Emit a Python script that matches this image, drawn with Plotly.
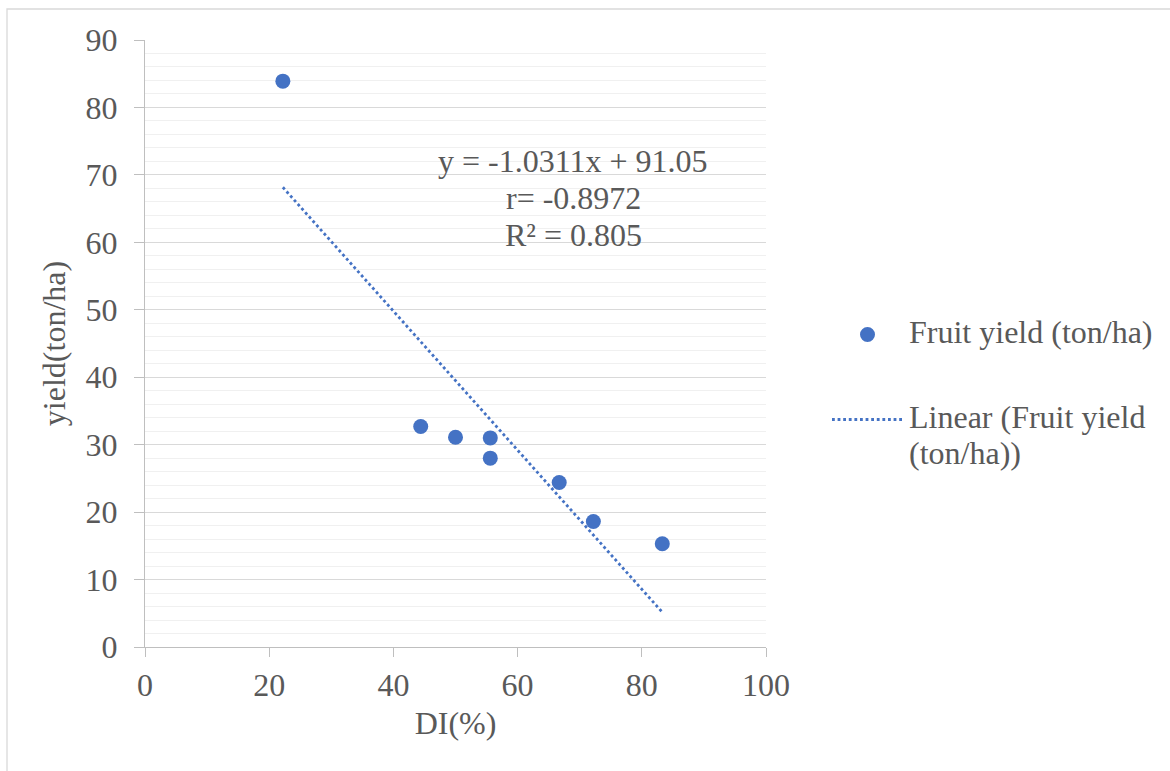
import plotly.graph_objects as go

# Data
di_pct = [22.2, 44.4, 50.0, 55.6, 55.6, 66.7, 72.2, 83.3]
fruit_yield = [83.9, 32.7, 31.1, 31.0, 28.0, 24.4, 18.6, 15.3]

# Trendline coefficients as printed on the chart
slope = -1.0311
intercept = 91.05
eq_lines = ["y = -1.0311x + 91.05", "r= -0.8972", "R² = 0.805"]

x_ticks = [0, 20, 40, 60, 80, 100]
y_ticks = [0, 10, 20, 30, 40, 50, 60, 70, 80, 90]

series_name = "Fruit yield (ton/ha)"
trend_name_lines = ["Linear (Fruit yield", "(ton/ha))"]

BLUE = "#4472C4"
TXT = "#595959"
FONT = "Liberation Serif, Times New Roman, serif"
FS = 32
BASE_OFF = 33  # px from annotation top to text baseline at FS

trend_x = [min(di_pct), max(di_pct)]
trend_y = [slope * v + intercept for v in trend_x]

fig = go.Figure()
fig.add_trace(go.Scatter(
    x=trend_x, y=trend_y, mode="lines", name=" ".join(trend_name_lines),
    line=dict(color=BLUE, width=2.8, dash="2.8px,2.8px"),
    showlegend=False, hoverinfo="skip",
))
fig.add_trace(go.Scatter(
    x=di_pct, y=fruit_yield, mode="markers", name=series_name,
    marker=dict(color=BLUE, size=15, line=dict(width=0)),
    showlegend=False,
))

W, H = 1170, 771
L, R, T, B = 145, 1170 - 766, 40, 771 - 647
pw, ph = W - L - R, H - T - B

def px(xp):
    return (xp - L) / pw

def py(yp):
    return (H - B - yp) / ph

shapes = [
    # chart border
    dict(type="rect", xref="paper", yref="paper",
         x0=px(7), x1=px(1180), y0=py(790), y1=py(9),
         line=dict(color="#D9D9D9", width=1.3), fillcolor="rgba(0,0,0,0)", layer="below"),
    # legend symbols
    dict(type="circle", xref="paper", yref="paper",
         x0=px(860), x1=px(875), y0=py(342), y1=py(327),
         line=dict(width=0), fillcolor=BLUE),
    dict(type="line", xref="paper", yref="paper",
         x0=px(832), x1=px(903), y0=py(419.5), y1=py(419.5),
         line=dict(color=BLUE, width=2.8, dash="2.8px,2.8px")),
]

def text_line(txt, x, baseline, anchor):
    return dict(text=txt, xref="paper", yref="paper",
                x=px(x), y=py(baseline - BASE_OFF), xanchor=anchor, yanchor="top",
                showarrow=False, font=dict(family=FONT, size=FS, color=TXT))

annotations = []
for txt, base in zip(eq_lines, [174, 211, 248]):
    annotations.append(text_line(txt, 573, base, "center"))
annotations.append(text_line(series_name, 907, 345, "left"))
for txt, base in zip(trend_name_lines, [430, 466]):
    annotations.append(text_line(txt, 907, base, "left"))

fig.update_layout(
    width=W, height=H,
    margin=dict(l=L, r=R, t=T, b=B, autoexpand=False),
    paper_bgcolor="white", plot_bgcolor="white",
    font=dict(family=FONT, size=FS, color=TXT),
    showlegend=False,
    shapes=shapes, annotations=annotations,
    xaxis=dict(
        range=[0, 100], tickvals=x_ticks, ticktext=[str(v) for v in x_ticks],
        showgrid=False, zeroline=False,
        showline=True, linecolor="#BFBFBF", linewidth=1.3,
        ticks="outside", ticklen=9, tickcolor="#BFBFBF", tickwidth=1.3,
        tickfont=dict(family=FONT, size=FS, color=TXT),
        title=dict(text="DI(%)", font=dict(family=FONT, size=FS, color=TXT), standoff=10),
        automargin=False, fixedrange=True,
    ),
    yaxis=dict(
        range=[0, 90], tickvals=y_ticks, ticktext=[str(v) for v in y_ticks],
        showgrid=True, gridcolor="#D9D9D9", gridwidth=1.3,
        minor=dict(dtick=2, showgrid=True, gridcolor="#F0F0F0", gridwidth=1.3),
        zeroline=False,
        showline=True, linecolor="#BFBFBF", linewidth=1.3,
        ticks="outside", ticklen=10, tickcolor="#BFBFBF", tickwidth=1.3,
        ticklabelstandoff=10,
        tickfont=dict(family=FONT, size=FS, color=TXT),
        title=dict(text="yield(ton/ha)", font=dict(family=FONT, size=FS, color=TXT), standoff=10),
        automargin=False, fixedrange=True,
    ),
)

fig.write_html("out.html")
